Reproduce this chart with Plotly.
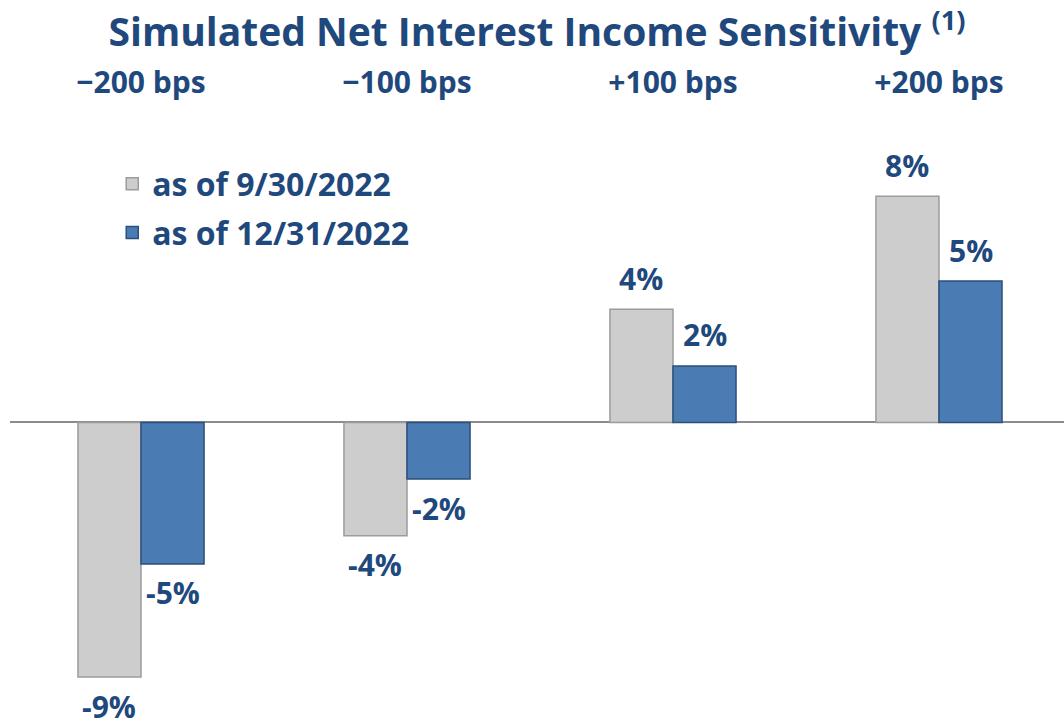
import plotly.graph_objects as go

# Rate shock scenarios and simulated NII change (%)
scenarios = ["\u2212200 bps", "\u2212100 bps", "+100 bps", "+200 bps"]
nii_sep_2022 = [-9, -4, 4, 8]
nii_dec_2022 = [-5, -2, 2, 5]
series_names = ["as of 9/30/2022", "as of 12/31/2022"]

NAVY = "#1F497D"
FONT = "Open Sans"

fig = go.Figure()
fig.add_trace(go.Bar(
    x=scenarios, y=nii_sep_2022, name=series_names[0], legendgroup="a",
    marker=dict(color="#CDCDCD", line=dict(color="#9C9C9C", width=1.5)),
))
fig.add_trace(go.Bar(
    x=scenarios, y=nii_dec_2022, name=series_names[1], legendgroup="b",
    marker=dict(color="#4A7BB3", line=dict(color="#2C4F7C", width=1.5)),
))

# Value labels just beyond the end of each bar
annotations = []
for vals, dx in ((nii_sep_2022, -32), (nii_dec_2022, 32)):
    for cat, v in zip(scenarios, vals):
        annotations.append(dict(
            x=cat, y=v, xref="x", yref="y", xshift=dx,
            yshift=31 if v > 0 else -29, showarrow=False, borderpad=0,
            text=f"{v}%", font=dict(family=FONT, size=30, color=NAVY, weight="bold"),
        ))

fig.update_layout(
    width=1064, height=728,
    margin=dict(l=10, r=0, t=100, b=0),
    paper_bgcolor="white", plot_bgcolor="white",
    barmode="group", bargap=0.526, bargroupgap=0,
    title=dict(
        text="Simulated Net Interest Income Sensitivity <sup>(1)</sup>",
        x=0.5, xref="paper", xanchor="center", y=0.955, yanchor="middle",
        font=dict(family=FONT, size=39, color=NAVY, weight="bold"),
    ),
    xaxis=dict(
        side="top", range=[-0.4925, 3.47], showgrid=False, showline=False,
        ticks="", tickfont=dict(family=FONT, size=30, color=NAVY, weight="bold"),
    ),
    yaxis=dict(
        range=[-10.8, 11.4], showgrid=False, showticklabels=False,
        zeroline=True, zerolinecolor="#8C8C8C", zerolinewidth=1.5,
    ),
    showlegend=True,
    legend=dict(
        x=0.097, y=0.91, xanchor="left", yanchor="top",
        traceorder="grouped", tracegroupgap=4,
        font=dict(family=FONT, size=32, color=NAVY, weight="bold"),
        bgcolor="rgba(0,0,0,0)",
    ),
    annotations=annotations,
)

fig.write_html("out.html")
